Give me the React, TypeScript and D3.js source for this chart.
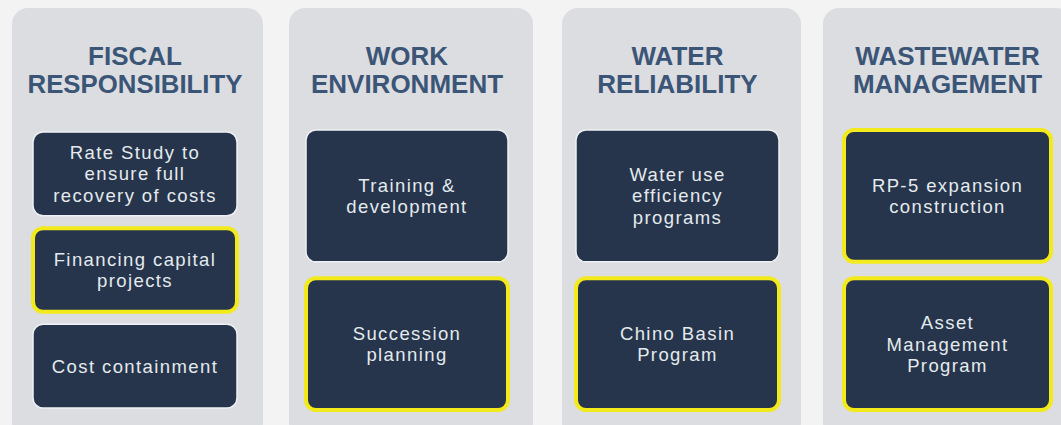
import React, { useEffect, useRef } from 'react';
import * as d3 from 'd3';

// four strategic areas, each with its initiatives
const titles = [
  ['FISCAL', 'RESPONSIBILITY'],
  ['WORK', 'ENVIRONMENT'],
  ['WATER', 'RELIABILITY'],
  ['WASTEWATER', 'MANAGEMENT'],
];

const initiatives = [
  [['Rate Study to', 'ensure full', 'recovery of costs'], ['Financing capital', 'projects'], ['Cost containment']],
  [['Training &', 'development'], ['Succession', 'planning']],
  [['Water use', 'efficiency', 'programs'], ['Chino Basin', 'Program']],
  [['RP-5 expansion', 'construction'], ['Asset', 'Management', 'Program']],
];

// which initiatives carry the yellow highlight
const highlighted = [
  [false, true, false],
  [false, true],
  [false, true],
  [true, true],
];

// layout (pixels)
const W = 1061;
const H = 425;
const panelEdges = [[12, 263], [289, 533], [562, 801], [823, 1072]];
const boxEdges = [[33, 237], [306, 508], [576, 779], [844, 1051]];

const App = () => {
  const svgRef = useRef<SVGSVGElement>(null);

  useEffect(() => {
    const svg = d3.select(svgRef.current);
    svg.selectAll('*').remove();

    svg.append('rect')
      .attr('width', W)
      .attr('height', H)
      .attr('fill', '#f3f3f4');

    const titleFont = 26;
    const boxFont = 18.5;
    const lineH = 21.5;

    titles.forEach((lines, p) => {
      const [px0, px1] = panelEdges[p];
      const [bx0, bx1] = boxEdges[p];
      const cx = (bx0 + bx1) / 2;
      const g = svg.append('g');

      g.append('rect')
        .attr('x', px0)
        .attr('y', 8)
        .attr('width', px1 - px0)
        .attr('height', 430)
        .attr('rx', 16)
        .attr('fill', '#dcdde1');

      const maxW = px1 - px0 - 36;
      g.selectAll('.title')
        .data(lines)
        .enter()
        .append('text')
        .attr('class', 'title')
        .attr('x', cx)
        .attr('y', (d, i) => 65 + i * 28)
        .attr('text-anchor', 'middle')
        .attr('font-family', '"Liberation Sans", Arial, sans-serif')
        .attr('font-weight', 'bold')
        .attr('font-size', titleFont)
        .attr('fill', '#3b5577')
        .text(d => d)
        .each(function () {
          const el = this as SVGTextElement;
          if (el.getComputedTextLength() > maxW) {
            el.setAttribute('textLength', String(maxW));
            el.setAttribute('lengthAdjust', 'spacingAndGlyphs');
          }
        });

      const items = initiatives[p];
      const yScale = d3.scaleBand<number>()
        .domain(d3.range(items.length))
        .range(items.length === 3 ? [132, 408] : [130, 410])
        .paddingInner(items.length === 3 ? 0.13 : 0.11);

      items.forEach((textLines, i) => {
        const y0 = yScale(i) as number;
        const bh = yScale.bandwidth();
        const hl = highlighted[p][i];

        g.append('rect')
          .attr('x', bx0)
          .attr('y', y0)
          .attr('width', bx1 - bx0)
          .attr('height', bh)
          .attr('rx', 10)
          .attr('fill', '#26354b')
          .attr('stroke', hl ? '#f2ea1a' : '#eef1f4')
          .attr('stroke-width', hl ? 4 : 1.5);

        const cy = y0 + bh / 2;
        g.selectAll(`.item-${i}`)
          .data(textLines)
          .enter()
          .append('text')
          .attr('class', `item-${i}`)
          .attr('x', cx)
          .attr('y', (d, k) => cy + (k - (textLines.length - 1) / 2) * lineH + boxFont * 0.35)
          .attr('text-anchor', 'middle')
          .attr('font-family', '"Liberation Sans", Arial, sans-serif')
          .attr('font-size', boxFont)
          .attr('letter-spacing', 1.4)
          .attr('fill', '#e4eaee')
          .text(d => d);
      });
    });
  }, []);

  return (
    <svg ref={svgRef} width={W} height={H} style={{ display: 'block', position: 'absolute', left: 0, top: 0 }} />
  );
};

export default App;
